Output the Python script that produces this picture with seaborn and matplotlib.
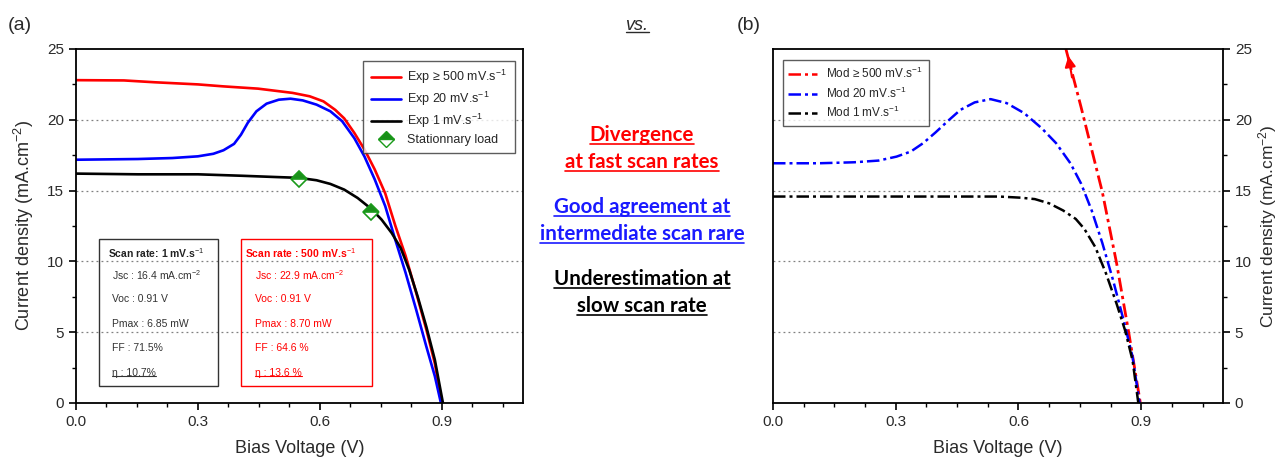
import numpy as np
import pandas as pd
import matplotlib
matplotlib.use("Agg")
import matplotlib.pyplot as plt
from matplotlib.lines import Line2D
from matplotlib.patches import Rectangle
from matplotlib.ticker import MultipleLocator
import seaborn as sns

# ── Data ──────────────────────────────────────────────────────────────────
# (a) experimental J-V curves
exp500_v = [0.0, 0.118, 0.194, 0.30, 0.363, 0.448, 0.533, 0.575, 0.609, 0.638, 0.66,
            0.685, 0.71, 0.735, 0.761, 0.786, 0.811, 0.837, 0.862, 0.883, 0.90]
exp500_j = [22.8, 22.78, 22.65, 22.5, 22.36, 22.2, 21.9, 21.66, 21.3, 20.7, 20.1,
            19.07, 17.9, 16.5, 14.8, 12.5, 10.4, 7.8, 5.2, 2.8, 0.0]

exp20_v = [0.0, 0.152, 0.237, 0.30, 0.338, 0.363, 0.389, 0.406, 0.423, 0.444, 0.469,
           0.499, 0.528, 0.558, 0.592, 0.626, 0.655, 0.685, 0.71, 0.735, 0.761,
           0.786, 0.811, 0.837, 0.862, 0.883, 0.898]
exp20_j = [17.18, 17.23, 17.3, 17.42, 17.6, 17.85, 18.3, 18.95, 19.8, 20.6, 21.14,
           21.42, 21.49, 21.37, 21.07, 20.6, 19.9, 18.7, 17.4, 15.8, 13.9,
           11.5, 9.2, 6.6, 4.0, 1.9, 0.0]

exp1_v = [0.0, 0.152, 0.30, 0.406, 0.49, 0.549, 0.592, 0.626, 0.66, 0.693, 0.727,
          0.752, 0.777, 0.799, 0.82, 0.841, 0.862, 0.883, 0.903]
exp1_j = [16.2, 16.15, 16.15, 16.05, 15.96, 15.9, 15.73, 15.47, 15.07, 14.48, 13.7,
          12.95, 12.0, 10.95, 9.4, 7.5, 5.4, 3.06, 0.0]

stat_v = [0.549, 0.727]
stat_j = [15.8, 13.5]

# (b) model J-V curves
mod500_v = [0.716, 0.753, 0.779, 0.805, 0.84, 0.87, 0.898]
mod500_j = [25.0, 20.9, 17.9, 14.9, 9.86, 4.9, 0.0]

mod20_v = [0.0, 0.111, 0.198, 0.258, 0.302, 0.337, 0.367, 0.397, 0.428, 0.458, 0.493,
           0.532, 0.571, 0.614, 0.657, 0.692, 0.727, 0.753, 0.779, 0.805, 0.831,
           0.857, 0.879, 0.896]
mod20_j = [16.93, 16.93, 17.0, 17.12, 17.4, 17.76, 18.35, 19.1, 19.93, 20.7, 21.23,
           21.46, 21.18, 20.47, 19.4, 18.35, 16.93, 15.5, 13.6, 11.3, 8.7,
           5.85, 3.25, 0.0]

mod1_v = [0.0, 0.154, 0.328, 0.501, 0.553, 0.605, 0.64, 0.675, 0.709, 0.74, 0.761,
          0.788, 0.814, 0.84, 0.861, 0.879, 0.893]
mod1_j = [14.58, 14.58, 14.58, 14.58, 14.58, 14.5, 14.4, 14.1, 13.6, 13.0, 12.3,
          11.0, 9.15, 7.0, 5.1, 3.0, 0.0]

exp_labels = ["Exp ≥ 500 mV.s$^{-1}$", "Exp 20 mV.s$^{-1}$", "Exp 1 mV.s$^{-1}$"]
mod_labels = ["Mod ≥ 500 mV.s$^{-1}$", "Mod 20 mV.s$^{-1}$", "Mod 1 mV.s$^{-1}$"]

box1_lines = ["Jsc : 16.4 mA.cm$^{-2}$", "Voc : 0.91 V", "Pmax : 6.85 mW", "FF : 71.5%", "η : 10.7%"]
box2_lines = ["Jsc : 22.9 mA.cm$^{-2}$", "Voc : 0.91 V", "Pmax : 8.70 mW", "FF : 64.6 %", "η : 13.6 %"]

mid_texts = [("Divergence", "red"), ("at fast scan rates", "red"),
             ("Good agreement at", "#1a1aff"), ("intermediate scan rare", "#1a1aff"),
             ("Underestimation at", "black"), ("slow scan rate", "black")]

# ── Style ─────────────────────────────────────────────────────────────────
sns.set_theme(style="ticks")
plt.rcParams["font.family"] = ["Liberation Sans", "DejaVu Sans"]
plt.rcParams["mathtext.fontset"] = "custom"
plt.rcParams["mathtext.rm"] = "Liberation Sans"
plt.rcParams["mathtext.it"] = "Liberation Sans:italic"
plt.rcParams["mathtext.bf"] = "Liberation Sans:bold"
TXT = "#2a2a2a"

fig = plt.figure(figsize=(12.82, 4.58), dpi=100)
axA = fig.add_axes([76 / 1282, 55 / 458, 447 / 1282, 354 / 458])
axB = fig.add_axes([773 / 1282, 55 / 458, 450 / 1282, 354 / 458])


def style_axes(ax):
    ax.set_xlim(0, 1.1)
    ax.set_ylim(0, 25)
    ax.xaxis.set_major_locator(MultipleLocator(0.3))
    ax.xaxis.set_minor_locator(MultipleLocator(0.075))
    ax.yaxis.set_major_locator(MultipleLocator(5))
    ax.yaxis.set_minor_locator(MultipleLocator(2.5))
    ax.xaxis.set_major_formatter(matplotlib.ticker.FormatStrFormatter("%.1f"))
    for s in ax.spines.values():
        s.set_visible(True)
        s.set_color("black")
        s.set_linewidth(1.3)
    ax.tick_params(which="major", direction="out", length=5, width=1.2, labelsize=11,
                   labelcolor=TXT, color="black")
    ax.tick_params(which="minor", direction="out", length=3, width=1.0, color="black")
    for yv in (5, 10, 15, 20):
        ax.axhline(yv, color="gray", ls=(0, (1.5, 2.5)), lw=0.9, zorder=0)
    ax.set_xlabel("Bias Voltage (V)", fontsize=13, color=TXT, labelpad=8)


# ── (a) experiment ────────────────────────────────────────────────────────
style_axes(axA)
sns.lineplot(x=exp500_v, y=exp500_j, ax=axA, color="red", lw=1.9, estimator=None, sort=False)
sns.lineplot(x=exp20_v, y=exp20_j, ax=axA, color="blue", lw=1.9, estimator=None, sort=False)
sns.lineplot(x=exp1_v, y=exp1_j, ax=axA, color="black", lw=1.9, estimator=None, sort=False)
axA.plot(stat_v, stat_j, ls="none", marker="D", ms=8, fillstyle="top",
         markerfacecolor="#1a8f1a", markerfacecoloralt="white",
         markeredgecolor="#1a9a1a", markeredgewidth=1.2, zorder=5)
axA.set_ylabel("Current density (mA.cm$^{-2}$)", fontsize=13, color=TXT, labelpad=8)

hA = [Line2D([], [], color=c, lw=1.9) for c in ("red", "blue", "black")]
hA.append(Line2D([], [], ls="none", marker="D", ms=8, fillstyle="top",
                 markerfacecolor="#1a8f1a", markerfacecoloralt="white",
                 markeredgecolor="#1a9a1a"))
legA = axA.legend(hA, exp_labels + ["Stationnary load"], loc="upper right",
                  bbox_to_anchor=(0.995, 0.985), fontsize=9, frameon=True,
                  fancybox=False, edgecolor="#333333", handlelength=2.4,
                  labelspacing=0.3, borderpad=0.6, handletextpad=0.5)
legA.get_frame().set_linewidth(1.0)

# parameter boxes
axA.add_patch(Rectangle((0.0515, 0.048), 0.267, 0.415, transform=axA.transAxes,
                        fill=False, edgecolor="#333333", lw=1.0, zorder=4))
axA.add_patch(Rectangle((0.369, 0.048), 0.293, 0.415, transform=axA.transAxes,
                        fill=False, edgecolor="red", lw=1.0, zorder=4))
line_y = [0.362, 0.294, 0.223, 0.155, 0.085]
axA.text(0.072, 0.424, "Scan rate: 1 mV.s$^{-1}$", transform=axA.transAxes,
         fontsize=7.5, fontweight="bold", color="#222222", va="center")
axA.text(0.378, 0.424, "Scan rate : 500 mV.s$^{-1}$", transform=axA.transAxes,
         fontsize=7.5, fontweight="bold", color="red", va="center")
under = []
for i, (t1, t2) in enumerate(zip(box1_lines, box2_lines)):
    a = axA.text(0.081, line_y[i], t1, transform=axA.transAxes, fontsize=7.5,
                 color="#333333", va="center")
    b = axA.text(0.40, line_y[i], t2, transform=axA.transAxes, fontsize=7.5,
                 color="red", va="center")
    if i == len(box1_lines) - 1:
        under += [(a, "#333333", 0.8), (b, "red", 0.8)]

# ── (b) model ─────────────────────────────────────────────────────────────
style_axes(axB)
dashdot = (0, (5, 1.6, 1.2, 1.6))
sns.lineplot(x=mod500_v, y=mod500_j, ax=axB, color="red", lw=2.0, estimator=None,
             sort=False, linestyle=dashdot)
sns.lineplot(x=mod20_v, y=mod20_j, ax=axB, color="blue", lw=1.8, estimator=None,
             sort=False, linestyle=dashdot)
sns.lineplot(x=mod1_v, y=mod1_j, ax=axB, color="black", lw=1.8, estimator=None,
             sort=False, linestyle=dashdot)
axB.annotate("", xy=(mod500_v[0] + 0.005, 24.7), xytext=(mod500_v[0] + 0.016, 22.8),
             arrowprops=dict(arrowstyle="-|>", color="red", lw=1.5, mutation_scale=16))
axB.yaxis.tick_right()
axB.yaxis.set_label_position("right")
axB.tick_params(axis="y", which="both", left=False, right=True)
axB.set_ylabel("Current density (mA.cm$^{-2}$)", fontsize=12.5, color=TXT, labelpad=3)

hB = [Line2D([], [], color=c, lw=1.8, ls=dashdot) for c in ("red", "blue", "black")]
legB = axB.legend(hB, mod_labels, loc="upper left", bbox_to_anchor=(0.008, 0.985),
                  fontsize=8.5, frameon=True, fancybox=False, edgecolor="#333333",
                  handlelength=2.4, labelspacing=0.35, borderpad=0.5)
legB.get_frame().set_linewidth(1.0)

# ── Figure texts ──────────────────────────────────────────────────────────
fig.text(8 / 1282, 1 - 25 / 458, "(a)", fontsize=14, color=TXT, va="center")
fig.text(737 / 1282, 1 - 25 / 458, "(b)", fontsize=14, color=TXT, va="center")
vs = fig.text(637 / 1282, 1 - 25 / 458, "vs.", fontsize=13, style="italic",
              color=TXT, ha="center", va="center")
under.append((vs, TXT, 1.0))

mid_y = [135, 162, 207, 234, 279, 306]
for (txt, col), yp in zip(mid_texts, mid_y):
    t = fig.text(642 / 1282, 1 - yp / 458, txt, fontsize=14.8, fontweight="bold",
                 family=["Lato", "DejaVu Sans"], color=col, ha="center", va="center")
    under.append((t, col, 1.2))

# underline text after layout is known
fig.canvas.draw()
rend = fig.canvas.get_renderer()
inv = fig.transFigure.inverted()
for t, col, lw in under:
    bb = t.get_window_extent(renderer=rend)
    (x0, y0), (x1, _) = inv.transform([(bb.x0, bb.y0 + 1.5), (bb.x1, bb.y0 + 1.5)])
    fig.add_artist(Line2D([x0, x1], [y0, y0], color=col, lw=lw))

fig.savefig("out.png", dpi=100)
